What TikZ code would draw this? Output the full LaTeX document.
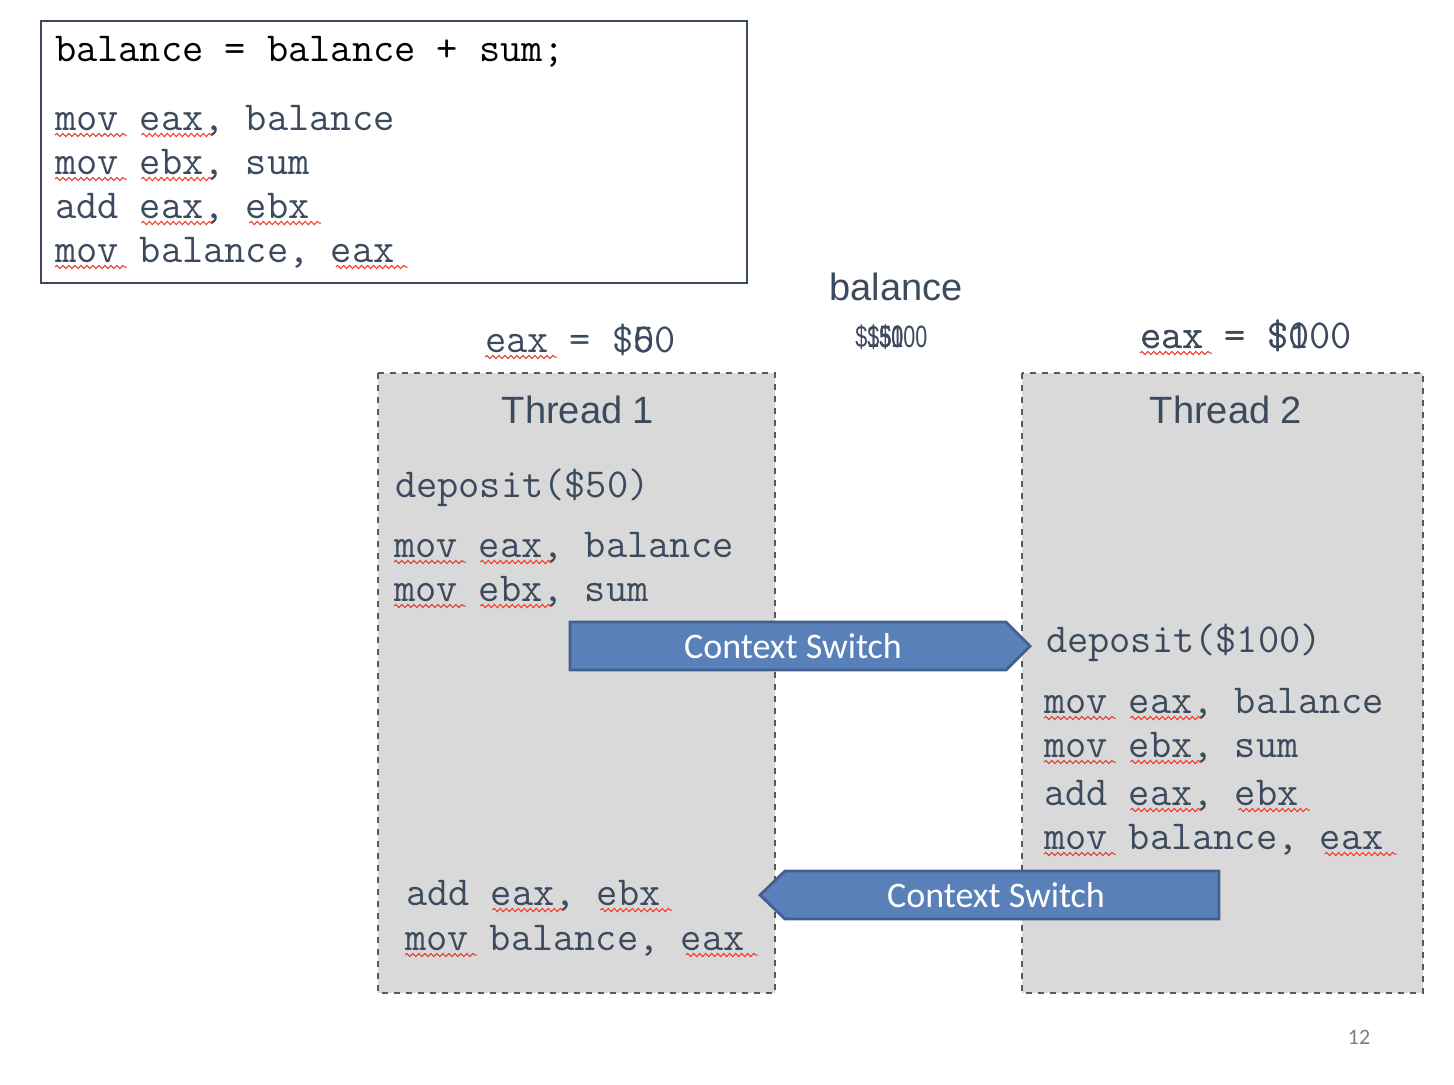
\documentclass[tikz,border=0pt]{standalone}
\usepackage{graphicx}
\usepackage{fontspec}
\setmainfont{Liberation Sans}
\setmonofont{Latin Modern Mono}
\newfontfamily\calibri{Carlito}
\usetikzlibrary{decorations.pathmorphing}
\definecolor{slate}{HTML}{3C4A5E}
\definecolor{boxgray}{HTML}{D9D9D9}
\definecolor{csfill}{HTML}{5A80BA}
\definecolor{csline}{HTML}{41608E}
\definecolor{squigred}{HTML}{E5392B}
\tikzset{
  code/.style={anchor=base west, inner sep=0pt, outer sep=0pt, text=slate,
    font=\ttfamily\fontsize{20.6}{24}\selectfont},
  squig/.style={squigred, line width=0.5pt, decorate,
    decoration={snake, segment length=3pt, amplitude=0.8pt}},
  thread/.style={draw=black!65, dashed, fill=boxgray, line width=0.6pt},
  cswitch/.style={draw=csline, fill=csfill, line width=1.4pt, line join=miter},
  cstext/.style={text=white, font=\calibri\fontsize{18}{20}\selectfont},
  title/.style={text=slate, font=\fontsize{19}{22}\selectfont},
  cashnode/.style={text=slate, inner sep=0pt, anchor=west},
}
\newcommand\squig[3]{\draw[squig] ([xshift=#2*10.8pt, yshift=-2.5pt]#1.base west) -- ++(#3*10.8pt+3.5pt,0);}
\newcommand\cash[1]{\scalebox{0.7}[1]{\fontsize{15.4}{18}\selectfont\$#1}}

\begin{document}
\begin{tikzpicture}[x=0.5pt,y=-0.5pt]
\useasboundingbox (0,0) rectangle (1454,1084);

\draw[slate, line width=1pt] (41,21) rectangle (747,283);
\node[code, text=black] (src) at (55,61) {balance = balance + sum;};
\node[code] (a1) at (55,130) {mov eax, balance};
\node[code] (a2) at (55,174) {mov ebx, sum};
\node[code] (a3) at (55,218) {add eax, ebx};
\node[code] (a4) at (55,262) {mov balance, eax};
\squig{a1}{0}{3} \squig{a1}{4}{3}
\squig{a2}{0}{3} \squig{a2}{4}{3}
\squig{a3}{4}{3} \squig{a3}{9}{3}
\squig{a4}{0}{3} \squig{a4}{13}{3}

\node[title] (bal) at (896,287) {balance};
\node[cashnode] (v1) at (855,337) {\cash{150}};
\node[cashnode] (v2) at (879,337) {\cash{100}};
\node[cashnode] (v3) at (867,337) {\cash{50}};

\node[code] (eax1) at (485,352) {eax = \$50};
\node[code] (eax1b) at (485,352) {\phantom{eax = \$}0};
\squig{eax1}{0}{3}
\node[code] (eax2) at (1140,348) {eax = \$100};
\node[code] (eax2b) at (1140,348) {eax = \$0};
\squig{eax2}{0}{3}

\draw[thread] (378,373) rectangle (775,993);
\draw[thread] (1022,373) rectangle (1423,993);
\node[title] (t1) at (578,410) {Thread 1};
\node[title] (t2) at (1226,410) {Thread 2};

\node[code] (d1) at (395,497) {deposit(\$50)};
\node[code] (b1) at (394,557) {mov eax, balance};
\node[code] (b2) at (394,601) {mov ebx, sum};
\node[code] (b3) at (406,905) {add eax, ebx};
\node[code] (b4) at (405,950) {mov balance, eax};
\squig{b1}{0}{3} \squig{b1}{4}{3}
\squig{b2}{0}{3} \squig{b2}{4}{3}
\squig{b3}{4}{3} \squig{b3}{9}{3}
\squig{b4}{0}{3} \squig{b4}{13}{3}

\node[code] (d2) at (1046,652) {deposit(\$100)};
\node[code] (c1) at (1044,713) {mov eax, balance};
\node[code] (c2) at (1044,757) {mov ebx, sum};
\node[code] (c3) at (1044,805) {add eax, ebx};
\node[code] (c4) at (1044,849) {mov balance, eax};
\squig{c1}{0}{3} \squig{c1}{4}{3}
\squig{c2}{0}{3} \squig{c2}{4}{3}
\squig{c3}{4}{3} \squig{c3}{9}{3}
\squig{c4}{0}{3} \squig{c4}{13}{3}

\draw[cswitch] (570,622) -- (1006,622) -- (1030,646) -- (1006,670) -- (570,670) -- cycle;
\node[cstext] (cs1) at (793,646) {Context Switch};
\draw[cswitch] (1219,871) -- (785,871) -- (760,895) -- (785,919) -- (1219,919) -- cycle;
\node[cstext] (cs2) at (996,895) {Context Switch};

\node[text=black!50, font=\calibri\fontsize{11}{13}\selectfont] (pg) at (1359,1037) {12};
\end{tikzpicture}
\end{document}
